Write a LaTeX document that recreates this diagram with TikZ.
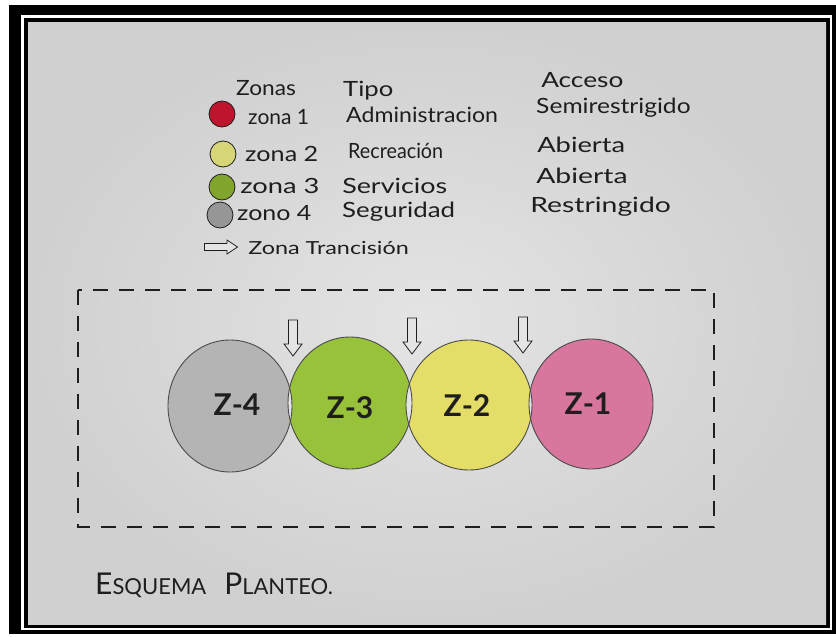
\documentclass[tikz,border=0pt]{standalone}
\usepackage{fontspec}
\setmainfont{Lato}
\usetikzlibrary{shapes.geometric}
\definecolor{paperL}{RGB}{228,228,228}
\definecolor{paperD}{RGB}{208,208,208}
\definecolor{ink}{RGB}{30,30,30}
\definecolor{zred}{RGB}{190,20,45}
\definecolor{zyel}{RGB}{214,214,120}
\definecolor{zgrn}{RGB}{130,165,45}
\definecolor{zgry}{RGB}{150,150,150}
\definecolor{fgry}{RGB}{180,180,180}
\definecolor{fgrn}{RGB}{152,194,58}
\definecolor{fyel}{RGB}{228,222,104}
\definecolor{fpnk}{RGB}{216,118,158}
\tikzset{
  txt/.style={anchor=west,inner sep=0pt,text=ink,font=\fontsize{21}{24}\selectfont},
  dot/.style={circle,draw=ink,line width=0.8pt,minimum size=26pt,inner sep=0pt},
  zlab/.style={inner sep=0pt,text=ink,font=\fontsize{30}{34}\selectfont\bfseries},
  zone/.style={draw=ink!80,line width=0.9pt},
  downarrow/.pic={\draw[ink,line width=0.8pt,fill=paperL] (-4.5,-18) -- (4.5,-18) -- (4.5,6) -- (9,6) -- (0,18) -- (-9,6) -- (-4.5,6) -- cycle;},
  rightarrow/.pic={\draw[ink,line width=0.8pt,fill=paperL] (-16.5,-3.5) -- (6,-3.5) -- (6,-7) -- (16.5,0) -- (6,7) -- (6,3.5) -- (-16.5,3.5) -- cycle;},
}
\begin{document}
\begin{tikzpicture}[x=1pt,y=-1pt]
\useasboundingbox (0,0) rectangle (836,637);
\fill[white] (0,0) rectangle (836,637);
% frame
\fill[black] (9,5) rectangle (836,634);
\fill[white] (21,15) rectangle (832,630);
\fill[black] (24,18) rectangle (830,628);
\shade[inner color=paperL,outer color=paperD] (28,22) rectangle (826,624);
% legend header
\node[txt,xscale=1.08] (hzon) at (236,88) {Zonas};
\node[txt,xscale=1.22] (htipo) at (343,91) {Tipo};
\node[txt,xscale=1.25] (hacc) at (541,80) {Acceso};
% row 1
\node[dot,fill=zred] (d1) at (222,114) {};
\node[txt] (n1) at (248,117) {zona 1};
\node[txt,xscale=1.1] (t1) at (346,115) {Administracion};
\node[txt,xscale=1.17] (a1) at (536,108) {Semirestrigido};
% row 2
\node[dot,fill=zyel] (d2) at (223,154) {};
\node[txt,xscale=1.2] (n2) at (245,154) {zona 2};
\node[txt,xscale=0.94] (t2) at (348,151) {Recreación};
\node[txt,xscale=1.3] (a2) at (537,145) {Abierta};
% row 3
\node[dot,fill=zgrn] (d3) at (222,187) {};
\node[txt,xscale=1.3] (n3) at (240,186) {zona 3};
\node[txt,xscale=1.28] (t3) at (342,186) {Servicios};
\node[txt,xscale=1.35] (a3) at (536,176) {Abierta};
% row 4
\node[dot,fill=zgry] (d4) at (220,215) {};
\node[txt,xscale=1.19] (n4) at (237,213) {zono 4};
\node[txt,xscale=1.23] (t4) at (342,212) {Seguridad};
\node[txt,xscale=1.35] (a4) at (530,207) {Restringido};
% transition legend
\pic at (221,247) {rightarrow};
\node[txt,font=\fontsize{18}{21}\selectfont,xscale=1.3] (tt) at (248,248) {Zona Trancisión};
% dashed boundary
\draw[ink,line width=1.3pt,dash pattern=on 15pt off 11pt] (78,290) rectangle (714,527);
% zones
\coordinate (c4) at (230,406);
\coordinate (c3) at (350,403);
\coordinate (c2) at (469,405);
\coordinate (c1) at (591,404);
\fill[fgry] (c4) ellipse[x radius=62,y radius=66];
\fill[fgrn] (c3) ellipse[x radius=62,y radius=66];
\fill[fyel] (c2) ellipse[x radius=63,y radius=65];
\fill[fpnk] (c1) ellipse[x radius=62,y radius=65];
\begin{scope}
  \clip (c4) ellipse[x radius=62,y radius=66];
  \fill[paperL] (c3) ellipse[x radius=62,y radius=66];
\end{scope}
\begin{scope}
  \clip (c3) ellipse[x radius=62,y radius=66];
  \fill[paperL] (c2) ellipse[x radius=63,y radius=65];
\end{scope}
\begin{scope}
  \clip (c2) ellipse[x radius=63,y radius=65];
  \fill[paperL] (c1) ellipse[x radius=62,y radius=65];
\end{scope}
\draw[zone] (c4) ellipse[x radius=62,y radius=66];
\draw[zone] (c3) ellipse[x radius=62,y radius=66];
\draw[zone] (c2) ellipse[x radius=63,y radius=65];
\draw[zone] (c1) ellipse[x radius=62,y radius=65];
\node[zlab] (z4) at (237,405) {Z-4};
\node[zlab] (z3) at (350,408) {Z-3};
\node[zlab] (z2) at (467,406) {Z-2};
\node[zlab] (z1) at (588,404) {Z-1};
% transition arrows
\pic at (293,338) {downarrow};
\pic at (412,336) {downarrow};
\pic at (523,335) {downarrow};
% title
\node[txt,font=\fontsize{30}{34}\selectfont] (title) at (95,585) {E{\fontsize{22}{26}\selectfont SQUEMA}\hspace{18pt}P{\fontsize{22}{26}\selectfont LANTEO.}};
\end{tikzpicture}
\end{document}
